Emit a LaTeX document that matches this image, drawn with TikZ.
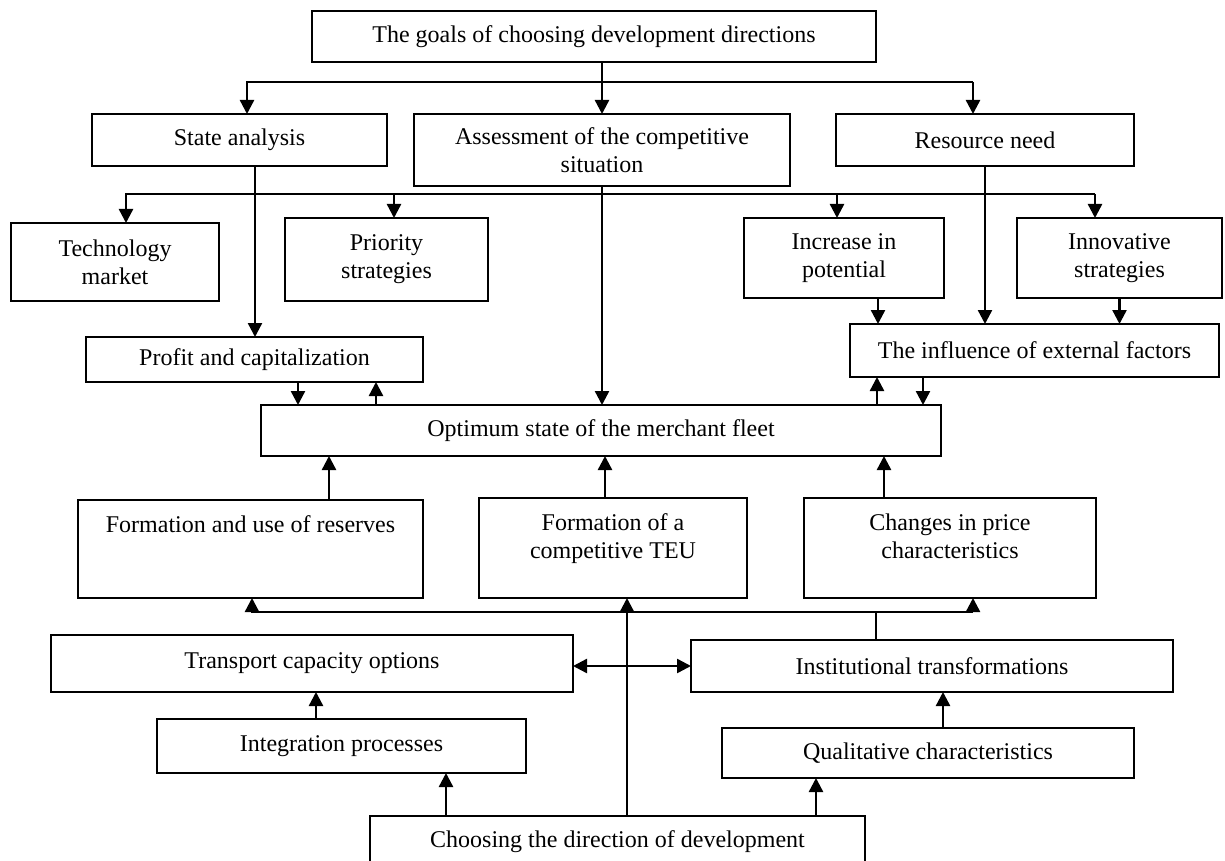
\documentclass[tikz,border=0pt]{standalone}
\usepackage{fontspec}
\setmainfont{Liberation Serif}
\usepackage{tikz}
\usetikzlibrary{arrows.meta, positioning}

\newcommand{\topcell}[3]{\begin{minipage}[c][#1][t]{#2}\centering\vspace{8pt}#3\end{minipage}}

\begin{document}
\begin{tikzpicture}[x=0.5pt, y=-0.5pt, >={Triangle[length=7pt, width=7pt]},
                    line width=1.2pt]
  \tikzstyle{box}=[draw, rectangle, line width=0.8pt, outer sep=0pt, align=center,
                   font=\fontsize{12}{14}\selectfont]

  \useasboundingbox (0,0) rectangle (1225,861);

  \node[box, minimum width=282pt, minimum height=25.5pt] (goals) at (594,36.5) {The goals of choosing development directions};
  \node[box, minimum width=147.5pt, minimum height=26pt] (state)    [below=26pt of goals, xshift=-177.25pt] {State analysis};
  \node[box, minimum width=188pt, minimum height=36pt]   (assess)   [below=26pt of goals, xshift=4pt]       {Assessment of the competitive\\situation};
  \node[box, minimum width=149pt, minimum height=26pt]   (resource) [below=26pt of goals, xshift=195.5pt]   {Resource need};

  \node[box, minimum width=104pt, minimum height=39pt]     (tech)     [below=28.5pt of state, xshift=-62.25pt]  {Technology\\market};
  \node[box, minimum width=101.5pt, minimum height=41.5pt] (priority) [below=26pt of state, xshift=73.5pt]     {Priority\\strategies};
  \node[box, minimum width=100pt, minimum height=40pt]     (increase) [below=26pt of resource, xshift=-70.5pt] {Increase in\\potential};
  \node[box, minimum width=102.5pt, minimum height=40pt]   (innov)    [below=26pt of resource, xshift=67.25pt] {Innovative\\strategies};

  \node[box, minimum width=168.5pt, minimum height=22.5pt] (profit)    [below=18pt of tech, xshift=69.75pt]     {Profit and capitalization};
  \node[box, minimum width=184.5pt, minimum height=26.5pt] (influence) [below=13pt of increase, xshift=95.25pt] {The influence of external factors};
  \node[box, minimum width=340pt, minimum height=25.5pt]   (optimum)   [below=109.5pt of assess, xshift=-0.5pt] {Optimum state of the merchant fleet};

  \node[box, inner sep=0pt] (reserves) [below=22pt of optimum, xshift=-175.25pt] {\topcell{49pt}{172.5pt}{Formation and use of reserves}};
  \node[box, inner sep=0pt] (teu)      [below=21pt of optimum, xshift=6pt]       {\topcell{50pt}{134pt}{Formation of a\\competitive TEU}};
  \node[box, inner sep=0pt] (price)    [below=21pt of optimum, xshift=174.5pt]   {\topcell{50pt}{146pt}{Changes in price\\characteristics}};

  \node[box, minimum width=261pt, minimum height=28.5pt]   (transport)     [below=18.5pt of reserves, xshift=30.75pt]   {Transport capacity options};
  \node[box, minimum width=241pt, minimum height=26pt]     (institutional) [below=21pt of price, xshift=-9pt]           {Institutional transformations};
  \node[box, minimum width=184.5pt, minimum height=27pt]   (integration)   [below=13.5pt of transport, xshift=14.75pt]  {Integration processes};
  \node[box, minimum width=206pt, minimum height=25pt]     (qualitative)   [below=18pt of institutional, xshift=-2pt]   {Qualitative characteristics};
  \node[box, minimum width=247.5pt, minimum height=26pt]   (choosing)      [below=109pt of teu, xshift=2.25pt]          {Choosing the direction of development};

  % goals to the second row
  \coordinate (gbusL) at (247,82);
  \coordinate (gbusR) at (973,82);
  \draw[->] (gbusR) -- (gbusL) -- (gbusL |- state.north);
  \draw[->] (gbusR) -- (gbusR |- resource.north);
  \draw[->] (goals.south -| assess.north) -- (assess.north);

  % bus to the strategy boxes
  \coordinate (sbusL) at (126,194);
  \coordinate (sbusR) at (1095,194);
  \draw[->] (sbusR) -- (sbusL) -- (sbusL |- tech.north);
  \draw[->] (sbusR) -- (sbusR |- innov.north);
  \draw[->] ([xshift=3.75pt]priority.north |- sbusL) -- ([xshift=3.75pt]priority.north);
  \draw[->] ([xshift=-3.5pt]increase.north |- sbusL) -- ([xshift=-3.5pt]increase.north);

  % long lines down
  \draw[->] ([xshift=7.75pt]state.south) -- ([xshift=7.75pt]state.south |- profit.north);
  \draw[->] (assess.south) -- (assess.south |- optimum.north);
  \draw[->] (resource.south) -- (resource.south |- influence.north);
  \draw[->] ([xshift=17pt]increase.south) -- ([xshift=17pt]increase.south |- influence.north);
  \draw[->] (innov.south) -- (innov.south |- influence.north);

  % feedback with the optimum state
  \draw[->] ([xshift=21.75pt]profit.south) -- ([xshift=21.75pt]profit.south |- optimum.north);
  \draw[->] ([xshift=60.75pt]profit.south |- optimum.north) -- ([xshift=60.75pt]profit.south);
  \draw[->] ([xshift=-78.75pt]influence.south |- optimum.north) -- ([xshift=-78.75pt]influence.south);
  \draw[->] ([xshift=-55.75pt]influence.south) -- ([xshift=-55.75pt]influence.south |- optimum.north);

  \draw[->] ([xshift=39.25pt]reserves.north) -- ([xshift=39.25pt]reserves.north |- optimum.south);
  \draw[->] ([xshift=-4pt]teu.north) -- ([xshift=-4pt]teu.north |- optimum.south);
  \draw[->] ([xshift=-33pt]price.north) -- ([xshift=-33pt]price.north |- optimum.south);

  % bottom part
  \coordinate (bbusL) at (252,612);
  \coordinate (bbusR) at (973,612);
  \draw[->] (bbusR) -- (bbusL) -- (bbusL |- reserves.south);
  \draw[->] (bbusR) -- (bbusR |- price.south);
  \draw ([xshift=-28pt]institutional.north) -- ([xshift=-28pt]institutional.north |- bbusL);
  \draw[->] ([xshift=4.75pt]choosing.north) -- ([xshift=4.75pt]choosing.north |- teu.south);
  \draw[<->] (institutional.west -| transport.east) -- (institutional.west);
  \draw[->] ([xshift=-12.75pt]integration.north) -- ([xshift=-12.75pt]integration.north |- transport.south);
  \draw[->] ([xshift=7.5pt]qualitative.north) -- ([xshift=7.5pt]qualitative.north |- institutional.south);
  \draw[->] ([xshift=-85.75pt]choosing.north) -- ([xshift=-85.75pt]choosing.north |- integration.south);
  \draw[->] ([xshift=99.25pt]choosing.north) -- ([xshift=99.25pt]choosing.north |- qualitative.south);
\end{tikzpicture}
\end{document}
